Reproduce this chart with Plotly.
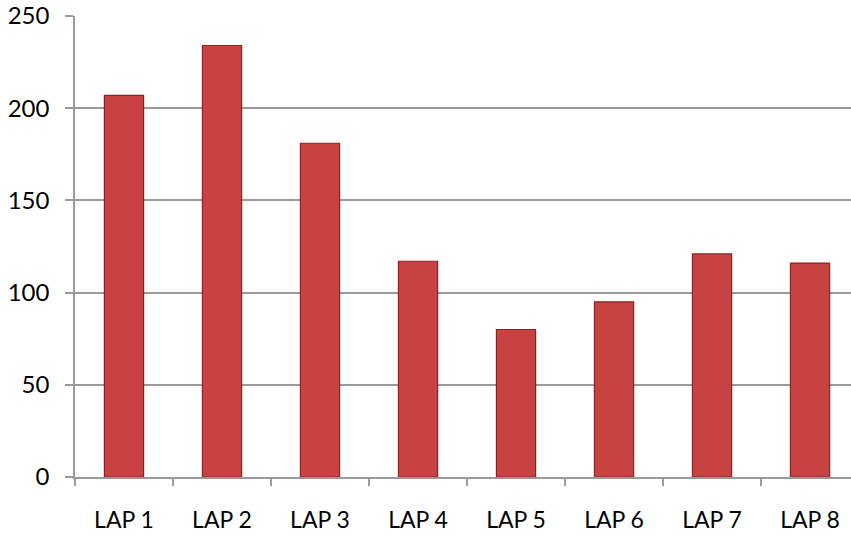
import plotly.graph_objects as go

categories = ["LAP 1", "LAP 2", "LAP 3", "LAP 4", "LAP 5", "LAP 6", "LAP 7", "LAP 8"]
values = [207, 234, 181, 117, 80, 95, 121, 116]
y_ticks = [0, 50, 100, 150, 200, 250]

fig = go.Figure()
fig.add_trace(go.Bar(
    x=categories, y=values, width=0.40,
    marker=dict(color="#c94242", line=dict(color="#8a2424", width=1.2)),
))

fig.update_layout(
    width=851, height=535,
    margin=dict(l=75, r=0, t=16, b=58),
    paper_bgcolor="white", plot_bgcolor="white",
    showlegend=False,
    font=dict(family="Lato", color="#000000"),
    bargap=0.6,
)
fig.update_xaxes(
    range=[-0.5, 7.418], showline=True, linecolor="#9a9a9a", linewidth=1.5,
    ticks="outside", tickson="boundaries", ticklen=7, tickcolor="#9a9a9a", tickwidth=1.5,
    tickfont=dict(size=23, family="Lato"), ticklabelstandoff=22, showgrid=False,
    automargin=False,
)
fig.update_yaxes(
    range=[0, 250], tickvals=y_ticks, showline=True, linecolor="#9a9a9a", linewidth=1.5,
    ticks="outside", ticklen=8, tickcolor="#9a9a9a", tickwidth=1.5,
    showgrid=True, gridcolor="#9a9a9a", gridwidth=1.5, zeroline=False,
    tickfont=dict(size=24, family="Lato"), ticklabelstandoff=11,
    automargin=False,
)

fig.write_html(
    "out.html",
    config={"displayModeBar": False},
    post_script="document.body.style.margin='0';document.body.style.overflow='hidden';",
)
